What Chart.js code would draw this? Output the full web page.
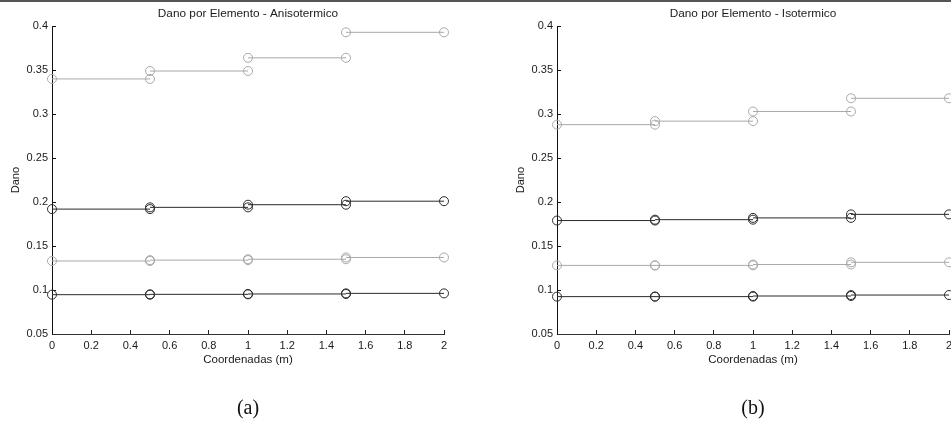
<!DOCTYPE html>
<html>
<head>
<meta charset="utf-8">
<script src="https://cdn.jsdelivr.net/npm/chart.js@4.4.1/dist/chart.umd.min.js"></script>
<style>
  html, body { margin: 0; padding: 0; background: #fff; overflow: hidden; }
  #page { position: relative; width: 951px; height: 421px; overflow: hidden; border-top: 2px solid #555; box-sizing: border-box; }
  canvas { position: absolute; top: -2px; }
  .cap { position: absolute; width: 80px; text-align: center; font-family: 'Liberation Serif', serif; font-size: 20px; line-height: 23px; color: #111; }
</style>
</head>
<body>
<div id="page">
  <canvas id="chartAniso" width="475" height="421" style="left:0px"></canvas>
  <canvas id="chartIso" width="475" height="421" style="left:505px"></canvas>
  <div class="cap" style="left:208px; top:394px">(a)</div>
  <div class="cap" style="left:713px; top:394px">(b)</div>
</div>
<script>
  /* Nodos de los elementos (m) */
  const nodes = [0, 0.5, 1, 1.5, 2];

  const xTicks = [0, 0.2, 0.4, 0.6, 0.8, 1, 1.2, 1.4, 1.6, 1.8, 2];
  const xTickLabels = ['0', '0.2', '0.4', '0.6', '0.8', '1', '1.2', '1.4', '1.6', '1.8', '2'];
  const yTicks = [0.05, 0.1, 0.15, 0.2, 0.25, 0.3, 0.35, 0.4];
  const yTickLabels = ['0.05', '0.1', '0.15', '0.2', '0.25', '0.3', '0.35', '0.4'];

  /* Dano por elemento - Anisotermico */
  const anisoTop = [0.340, 0.349, 0.364, 0.393];
  const anisoUpper = [0.192, 0.194, 0.197, 0.201];
  const anisoMid = [0.133, 0.134, 0.135, 0.137];
  const anisoLow = [0.0947, 0.0951, 0.0955, 0.0962];

  /* Dano por elemento - Isotermico */
  const isoTop = [0.288, 0.292, 0.303, 0.318];
  const isoUpper = [0.179, 0.180, 0.182, 0.186];
  const isoMid = [0.128, 0.128, 0.129, 0.1315];
  const isoLow = [0.0925, 0.0925, 0.0932, 0.0943];

  const dark = '#2b2b2b';
  const gray = '#a8a8a8';
  const textColor = '#1a1a1a';
  const sans = "'Liberation Sans', Arial, sans-serif";

  // cada elemento es un segmento horizontal con circulos en sus extremos
  const segments = (vals) => {
    let pts = [];
    for (let i in vals) {
      i = Number(i);
      pts.push({ x: nodes[i], y: vals[i] });
      pts.push({ x: nodes[i + 1], y: vals[i] });
      pts.push({ x: nodes[i + 1], y: null });
    }
    return pts;
  };

  const makeDataset = (vals, color) => ({
    data: segments(vals),
    borderColor: color,
    borderWidth: 1,
    pointStyle: 'circle',
    pointRadius: 4.5,
    pointBorderWidth: 1,
    pointBorderColor: color,
    pointBackgroundColor: 'rgba(0,0,0,0)',
    spanGaps: false,
    clip: false,
  });

  const buildChart = (id, title, series) => {
    const ctx = document.getElementById(id).getContext('2d');
    return new Chart(ctx, {
      type: 'line',
      data: {
        datasets: [
          makeDataset(series[3], dark),
          makeDataset(series[1], dark),
          makeDataset(series[2], gray),
          makeDataset(series[0], gray),
        ],
      },
      options: {
        responsive: false,
        animation: false,
        events: [],
        layout: { padding: { left: 0, right: 31, top: 0, bottom: 52 } },
        scales: {
          x: {
            type: 'linear',
            min: 0,
            max: 2,
            afterBuildTicks: (scale) => {
              scale.ticks = xTicks.map((v) => ({ value: v }));
            },
            afterFit: (scale) => {
              scale.height = 35;
            },
            grid: { drawOnChartArea: false, drawTicks: true, tickLength: -4, color: '#222' },
            border: { display: true, color: '#333', width: 1 },
            ticks: {
              padding: 9,
              color: textColor,
              font: { family: sans, size: 11 },
              maxRotation: 0,
              autoSkip: false,
              callback: (value, index) => xTickLabels[index],
            },
            title: {
              display: true,
              text: 'Coordenadas (m)',
              color: textColor,
              font: { family: sans, size: 11.5 },
              padding: { top: 0, bottom: 2.1 },
            },
          },
          y: {
            type: 'linear',
            min: 0.05,
            max: 0.4,
            afterBuildTicks: (scale) => {
              scale.ticks = yTicks.map((v) => ({ value: v }));
            },
            afterFit: (scale) => {
              scale.width = 52;
            },
            grid: { drawOnChartArea: false, drawTicks: true, tickLength: -4, color: '#111' },
            border: { display: true, color: '#111', width: 1 },
            ticks: {
              padding: 8,
              color: textColor,
              font: { family: sans, size: 11 },
              autoSkip: false,
              callback: (value, index) => yTickLabels[index],
            },
            title: {
              display: true,
              text: 'Dano',
              color: textColor,
              font: { family: sans, size: 11 },
              padding: { top: 9.4, bottom: 0 },
            },
          },
        },
        plugins: {
          legend: { display: false },
          tooltip: { enabled: false },
          title: {
            display: true,
            fullSize: false,
            text: title,
            color: textColor,
            font: { family: sans, size: 11.8, weight: 'normal' },
            padding: { top: 7, bottom: 5 },
          },
        },
      },
    });
  };

  buildChart('chartAniso', 'Dano por Elemento - Anisotermico', [anisoTop, anisoUpper, anisoMid, anisoLow]);
  buildChart('chartIso', 'Dano por Elemento - Isotermico', [isoTop, isoUpper, isoMid, isoLow]);
</script>
</body>
</html>
